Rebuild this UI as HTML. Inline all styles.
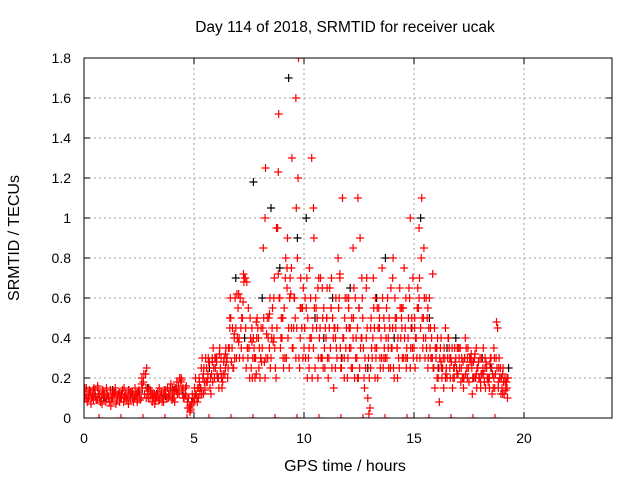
<!DOCTYPE html>
<html><head><meta charset="utf-8"><style>
body{margin:0;background:#fff}
svg{display:block;font-family:"Liberation Sans",sans-serif}
</style></head><body>
<svg id="chart" width="640" height="480">
<text x="345" y="32" font-size="15.5" text-anchor="middle">Day 114 of 2018, SRMTID for receiver ucak</text>
<text x="345" y="471" font-size="16" text-anchor="middle">GPS time / hours</text>
<text transform="translate(19,238) rotate(-90)" font-size="16" text-anchor="middle">SRMTID / TECUs</text>
<g id="grid"></g>
<g id="ticks"></g>
<defs><clipPath id="pc"><rect x="84" y="58" width="528" height="360"/></clipPath></defs>
<g id="marks" clip-path="url(#pc)"></g>
<rect x="84" y="58" width="528" height="360" fill="none" stroke="#000" stroke-width="1"/>
</svg>
<script>
const xTicks=[0,5,10,15,20];
const yTicks=[0,0.2,0.4,0.6,0.8,1,1.2,1.4,1.6,1.8];
const yTickLabels=["0","0.2","0.4","0.6","0.8","1","1.2","1.4","1.6","1.8"];
const redA=[0.12,0.15,0.1,0.13,0.11,0.14,0.09,0.12,0.1,0.13,0.08,0.11,0.14,0.1,0.12,0.09,0.13,0.1,0.08,0.12,0.11,0.09,0.13,0.1,0.12,0.14,0.1,0.18,0.22,0.12,0.1,0.08,0.12,0.11,0.09,0.13,0.1,0.12,0.15,0.11,0.09,0.12,0.14,0.16,0.18,0.15,0.12,0.08,0.05,0.07,
0.08,0.12,0.1,0.15,0.2,0.14,0.18,0.28,0.22,0.25,0.3,0.2,0.25,0.18,0.22,0.3,0.35,0.28,0.25,0.45,0.55,0.6,0.5,0.7,0.68,0.35,0.25,0.4,0.3,0.45,0.2,0.35,0.28,0.42,0.5,0.3,0.38,0.25,0.95,0.6,0.4,0.55,0.3,0.45,0.62,0.35,0.5,0.8,0.25,0.45,
0.35,0.55,0.3,0.6,0.45,0.25,0.5,0.4,0.3,0.55,0.4,0.2,0.35,0.5,0.45,0.3,0.6,0.25,0.4,0.35,0.3,0.45,0.25,0.2,0.3,0.55,0.4,0.35,0.25,0.1,0.05,0.3,0.45,0.35,0.55,0.4,0.25,0.3,0.6,0.45,0.35,0.2,0.5,0.3,0.4,0.55,0.45,0.3,0.6,0.5,
0.35,0.4,0.55,0.45,0.35,0.3,0.5,0.6,0.4,0.25,0.3,0.2,0.35,0.25,0.3,0.2,0.35,0.28,0.25,0.3,0.22,0.35,0.2,0.3,0.25,0.18,0.32,0.28,0.2,0.25,0.3,0.22,0.18,0.25,0.2,0.3,0.15,0.22,0.45,0.2,0.15,0.12,0.18];
const redB=[0.1,0.08,0.14,0.1,0.15,0.09,0.12,0.08,0.14,0.1,0.12,0.08,0.1,0.13,0.07,0.12,0.1,0.14,0.11,0.09,0.14,0.12,0.08,0.11,0.13,0.09,0.15,0.12,0.25,0.15,0.12,0.1,0.09,0.13,0.1,0.08,0.14,0.1,0.12,0.17,0.1,0.15,0.12,0.2,0.14,0.1,0.16,0.1,0.04,0.1,
0.12,0.08,0.18,0.12,0.25,0.18,0.3,0.2,0.18,0.3,0.22,0.32,0.2,0.28,0.35,0.25,0.6,0.45,0.3,0.62,0.4,0.35,0.72,0.45,0.3,0.5,0.2,0.3,0.4,0.25,0.45,0.85,1.25,0.3,0.6,0.45,0.7,0.95,1.52,0.4,0.3,0.7,0.9,0.6,1.3,0.6,1.05,1.8,0.7,0.3,
0.6,0.2,0.75,1.3,0.9,0.55,0.3,0.7,0.5,0.25,0.65,0.45,0.7,0.15,0.6,0.8,0.35,1.1,0.5,0.6,0.45,0.25,0.5,0.3,1.1,0.9,0.6,0.15,0.7,0.02,0.5,0.7,0.6,0.2,0.3,0.75,0.35,0.55,0.25,0.65,0.8,0.5,0.2,0.65,0.45,0.75,0.25,0.5,0.35,0.7,
0.25,0.55,0.7,1.1,0.85,0.6,0.3,0.45,0.72,0.15,0.2,0.08,0.25,0.15,0.22,0.4,0.2,0.15,0.35,0.22,0.3,0.25,0.15,0.22,0.35,0.28,0.12,0.3,0.15,0.2,0.22,0.35,0.15,0.2,0.27,0.12,0.3,0.48,0.25,0.12,0.25,0.18,0.1];
const redC=[0.13,0.11,0.09,0.15,0.12,0.1,0.08,0.13,0.11,0.1,0.14,0.12,0.09,0.2,0.1,0.13,0.11,0.09,0.12,0.1,0.15,0.13,0.19,0.11,0.06,
0.1,0.15,0.22,0.2,0.28,0.3,0.22,0.32,0.5,0.42,0.62,0.58,0.35,0.38,0.48,0.3,1.0,0.52,0.4,1.23,0.5,0.75,0.45,1.6,0.55,
0.45,0.35,1.05,0.65,0.3,0.5,0.55,0.4,0.72,0.3,0.6,0.85,0.2,0.4,0.65,0.45,0.35,0.5,0.3,0.4,0.7,0.35,0.55,0.3,1.0,
0.5,0.95,0.4,0.55,0.3,0.35,0.28,0.45,0.3,0.25,0.35,0.2,0.3,0.28,0.22,0.18,0.25,0.2,0.35,0.15,0.22,0.2];
const redD=[0.15,0.1,0.2,0.25,0.12,0.3,0.22,0.15,0.3,0.2,0.28,0.15,0.3,0.22,0.25,0.2,0.45,0.35,0.4,0.3,0.38,0.45,0.3,0.7,0.35,0.2,0.45,0.35,0.22,0.4,0.3,0.45,0.2,0.5,0.35,0.4,0.6,0.2,0.72,0.35,0.5,0.3,0.65,0.25,0.75,0.45,0.3,1.2,0.4,0.55,
0.45,0.7,0.25,0.4,0.35,0.6,0.2,0.45,0.65,0.35,0.5,0.3,0.55,0.4,0.25,0.45,0.7,0.3,0.2,0.45,0.55,0.35,0.4,0.6,0.45,0.25,0.7,0.2,0.4,0.3,0.25,0.4,0.2,0.55,0.45,0.3,0.5,0.4,0.35,0.25,0.45,0.6,0.35,0.25,0.5,0.3,0.6,0.4,0.25,0.35,
0.45,0.3,0.6,0.8,0.5,0.4,0.25,0.35,0.3,0.45,0.35,0.25,0.4,0.3,0.2,0.3,0.25,0.35,0.2,0.25,0.35,0.18,0.28,0.4,0.2,0.3,0.25,0.2,0.35,0.28,0.15,0.25,0.3,0.2,0.15,0.25,0.2,0.3,0.18,0.25,0.12,0.2,0.15];
const redE=[0.2,0.15,0.12,0.3,0.18,0.25,0.28,0.12,0.35,0.25,0.2,0.35,0.15,0.3,0.28,0.35,0.5,0.25,0.6,0.4,0.3,0.5,0.68,0.25,0.55,0.4,0.3,0.2,0.5,0.35,0.28,0.5,0.3,0.4,0.25,0.55,0.35,0.45,0.6,0.5,0.25,0.8,0.4,0.7,0.35,0.6,0.45,0.3,0.55,0.65,
0.3,0.5,0.4,0.2,0.55,0.45,0.7,0.3,0.25,0.45,0.3,0.65,0.25,0.45,0.35,0.55,0.25,0.4,0.6,0.2,0.35,0.5,0.65,0.4,0.2,0.35,0.5,0.3,0.45,0.2,0.35,0.55,0.3,0.45,0.25,0.6,0.45,0.3,0.5,0.35,0.25,0.45,0.4,0.55,0.3,0.4,0.35,0.65,0.45,0.3,
0.4,0.65,0.3,0.5,0.6,0.35,0.45,0.3,0.25,0.35,0.4,0.3,0.2,0.35,0.25,0.4,0.3,0.2,0.28,0.35,0.25,0.3,0.2,0.35,0.25,0.3,0.2,0.32,0.25,0.2,0.3,0.22,0.28,0.18,0.3,0.22,0.15,0.25,0.3,0.2,0.18,0.14,0.2];
const redF=[0.15,0.1,0.12,0.07,0.14,0.11,0.16,0.1,0.07,0.12,0.15,0.1,0.06,0.12,0.15,0.11,0.08,0.12,0.15,0.1,0.07,0.13,0.1,0.15,0.08,0.12,0.17,0.22,0.15,0.1,0.14,0.12,0.07,0.1,0.15,0.12,0.08,0.14,0.1,0.15,0.13,0.08,0.18,0.12,0.2,0.1,0.15,0.05,0.03,0.12];
const black=[0.15,0.12,0.1,0.14,0.12,0.1,0.13,0.15,0.12,0.11,0.14,0.12,0.08,0.15,0.25,0.2,0.3,0.7,0.4,1.18,0.6,1.05,0.75,1.7,0.9,1.0,0.5,0.4,0.6,0.3,0.65,0.55,0.25,0.6,0.8,0.4,0.55,0.45,1.0,0.5,0.25,0.35,0.4,0.3,0.2,0.3,0.25,0.2,0.25];
const zeroTimes=[0.68,1.68,2.68,3.68,4.68,5.68,6.68,7.68,8.68,9.68,10.68,11.68,12.68,13.68,14.68,15.68,16.68,17.68,18.68];
const NS="http://www.w3.org/2000/svg";
const X=t=>84+t*22, Y=v=>418-v*200;
const grid=document.getElementById('grid'), ticks=document.getElementById('ticks'), marks=document.getElementById('marks');
function mk(tag,attrs,parent){const e=document.createElementNS(NS,tag);for(const k in attrs)e.setAttribute(k,attrs[k]);parent.appendChild(e);return e;}
xTicks.forEach(t=>{
  if(t>0){const g=mk('line',{x1:X(t),x2:X(t),y1:58,y2:418,stroke:'#a0a0a0','stroke-dasharray':'2,3'},grid);
  
  }
  mk('line',{x1:X(t),x2:X(t),y1:418,y2:412,stroke:'#000'},ticks);
  mk('line',{x1:X(t),x2:X(t),y1:58,y2:64,stroke:'#000'},ticks);
  const l=mk('text',{x:X(t),y:443,'font-size':14,'text-anchor':'middle'},ticks);l.textContent=t;
  
  
});
yTicks.forEach((v,i)=>{
  if(v>0&&v<1.8){const g=mk('line',{x1:84,x2:612,y1:Y(v),y2:Y(v),stroke:'#a0a0a0','stroke-dasharray':'2,3'},grid);
  
  }
  mk('line',{x1:84,x2:90,y1:Y(v),y2:Y(v),stroke:'#000'},ticks);
  mk('line',{x1:606,x2:612,y1:Y(v),y2:Y(v),stroke:'#000'},ticks);
  const l=mk('text',{x:71,y:Y(v)+5,'font-size':14,'text-anchor':'end'},ticks);l.textContent=yTickLabels[i];
  
  
});
function plus(t,v,col,name){
  const x=X(t),y=Y(v);
  const p=mk('path',{d:`M${x-4},${y}h8M${x},${y-4}v8`,stroke:col,'stroke-width':1.2,fill:'none'},marks);
  
  
}
black.forEach((v,i)=>plus(i*0.4+0.1,v,'#000','black-point'));
redA.forEach((v,i)=>plus(i*0.1,v,'#f00','red-point'));
redB.forEach((v,i)=>plus(i*0.1+0.05,v,'#f00','red-point'));
redC.forEach((v,i)=>plus(i*0.2+0.03,v,'#f00','red-point'));
redD.forEach((v,i)=>plus(5+i*0.1+0.03,v,'#f00','red-point'));
redE.forEach((v,i)=>plus(5+i*0.1+0.07,v,'#f00','red-point'));
redF.forEach((v,i)=>plus(i*0.1+0.02,v,'#f00','red-point'));
zeroTimes.forEach(t=>plus(t,0,'#f00','zero-point'));
</script>
</body></html>
